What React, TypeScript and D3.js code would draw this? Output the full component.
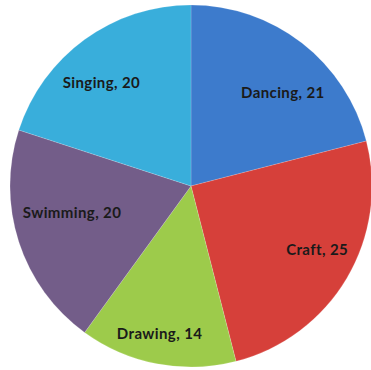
import React from "react";
import * as d3 from "d3";

const categories = ["Dancing", "Craft", "Drawing", "Swimming", "Singing"];
const values = [21, 25, 14, 20, 20];
const colors = ["#3d7bcc", "#d6403a", "#9dcb4b", "#735d89", "#39aedb"];
// label nudges relative to arc centroid (px)
const labelNudge: [number, number][] = [
  [12, 11],
  [14, -1],
  [-7, 21],
  [5, -12],
  [-13, 4],
];

export default function App() {
  const W = 371;
  const H = 370;
  const cx = 191;
  const cy = 186;
  const r = 181;
  const data = categories.map((c, i) => ({ c, v: values[i], i }));
  const pie = d3.pie<any>().value((d) => d.v).sort(null);
  const arcs = pie(data);
  const arc = d3.arc<any>().innerRadius(0).outerRadius(r);
  const labelArc = d3.arc<any>().innerRadius(r * 0.72).outerRadius(r * 0.72);
  return (
    <svg
      width={W}
      height={H}
      style={{ position: "absolute", left: 0, top: 0, background: "#fff" }}
    >
      <g transform={`translate(${cx},${cy})`}>
        {arcs.map((a, i) => (
          <path
            key={i}
            d={arc(a) as string}
            fill={colors[i]}
            stroke="#ffffff"
            strokeWidth={0.4}
            strokeOpacity={0.4}
          />
        ))}
        {arcs.map((a, i) => {
          const [x, y] = labelArc.centroid(a);
          return (
            <text
              key={"t" + i}
              x={x + labelNudge[i][0]}
              y={y + labelNudge[i][1]}
              textAnchor="middle"
              dominantBaseline="middle"
              fontFamily="Lato, 'Open Sans', sans-serif"
              fontSize={15}
              fontWeight={700}
              letterSpacing={0.4}
              fill="#1a1a1a"
            >
              {`${a.data.c}, ${a.data.v}`}
            </text>
          );
        })}
      </g>
    </svg>
  );
}
